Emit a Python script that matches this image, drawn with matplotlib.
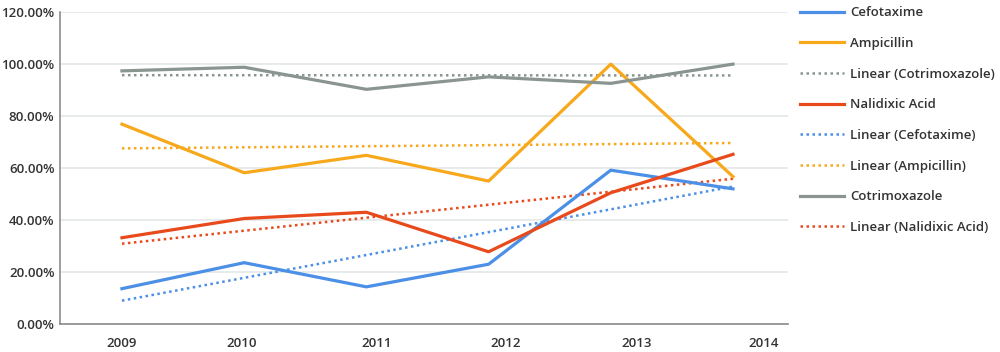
import matplotlib
matplotlib.use("Agg")
import matplotlib.pyplot as plt
import numpy as np

years = ["2009", "2010", "2011", "2012", "2013", "2014"]
cefotaxime = [13.6, 23.6, 14.3, 23.0, 59.2, 52.0]
ampicillin = [76.9, 58.2, 64.9, 55.0, 100.0, 56.7]
nalidixic = [33.2, 40.6, 43.0, 27.8, 50.5, 65.3]
cotrimoxazole = [97.4, 98.8, 90.3, 95.1, 92.6, 100.0]

plt.rcParams['font.family'] = ['Open Sans', 'DejaVu Sans']

C_BLUE = "#4b8fe6"
C_ORANGE = "#f7a81b"
C_RED = "#e84a1c"
C_GRAY = "#8a9590"

fig = plt.figure(figsize=(10, 3.52), dpi=100)
ax = fig.add_axes([0.06, 0.0795, 0.728, 0.886])

x = np.arange(len(years))

def trend(vals):
    p = np.polyfit(x, vals, 1)
    return np.polyval(p, x)

lw = 2.3
dlw = 1.8
h = {}
h['cef'], = ax.plot(x, cefotaxime, color=C_BLUE, lw=lw, label="Cefotaxime", zorder=3)
h['amp'], = ax.plot(x, ampicillin, color=C_ORANGE, lw=lw, label="Ampicillin", zorder=3)
h['lcot'], = ax.plot(x, trend(cotrimoxazole), color=C_GRAY, lw=dlw, ls=(0, (1, 1.4)), label="Linear (Cotrimoxazole)", zorder=2)
h['nal'], = ax.plot(x, nalidixic, color=C_RED, lw=lw, label="Nalidixic Acid", zorder=3)
h['lcef'], = ax.plot(x, trend(cefotaxime), color=C_BLUE, lw=dlw, ls=(0, (1, 1.4)), label="Linear (Cefotaxime)", zorder=2)
h['lamp'], = ax.plot(x, trend(ampicillin), color=C_ORANGE, lw=dlw, ls=(0, (1, 1.4)), label="Linear (Ampicillin)", zorder=2)
h['cot'], = ax.plot(x, cotrimoxazole, color=C_GRAY, lw=lw, label="Cotrimoxazole", zorder=3)
h['lnal'], = ax.plot(x, trend(nalidixic), color=C_RED, lw=dlw, ls=(0, (1, 1.4)), label="Linear (Nalidixic Acid)", zorder=2)

ax.set_xlim(-0.507, 5.45)
ax.set_ylim(0, 120)
yt = np.arange(0, 121, 20)
ax.set_yticks(yt)
ax.set_yticklabels([f"{v:.2f}%" for v in yt])
# category labels sit slightly drifted to the right of the data points in the reference
label_offsets = [0.0, -0.02, 0.08, 0.14, 0.21, 0.25]
ax.set_xticks(x + np.array(label_offsets))
ax.set_xticklabels(years)
ax.tick_params(axis='both', length=0, labelsize=9.5, colors="#333333")
ax.tick_params(axis='x', pad=9)
ax.tick_params(axis='y', pad=4)
for lab in ax.get_xticklabels() + ax.get_yticklabels():
    lab.set_fontweight('semibold')

ax.grid(axis='y', color="#e3e8e8", lw=1.2, zorder=0)
ax.set_axisbelow(True)
for s in ['top', 'right']:
    ax.spines[s].set_visible(False)
ax.spines['left'].set_color("#8c8c8c")
ax.spines['bottom'].set_color("#8c8c8c")
ax.spines['left'].set_linewidth(1.2)
ax.spines['bottom'].set_linewidth(1.2)

leg = fig.legend(handles=list(h.values()), loc='upper left', bbox_to_anchor=(0.795, 0.997),
                 frameon=False, fontsize=9.5, handlelength=3.3, handletextpad=0.5,
                 labelspacing=1.34, borderaxespad=0)
for t in leg.get_texts():
    t.set_color("#333333")
    t.set_fontweight('semibold')

fig.savefig("out.png", dpi=100, facecolor="white")
